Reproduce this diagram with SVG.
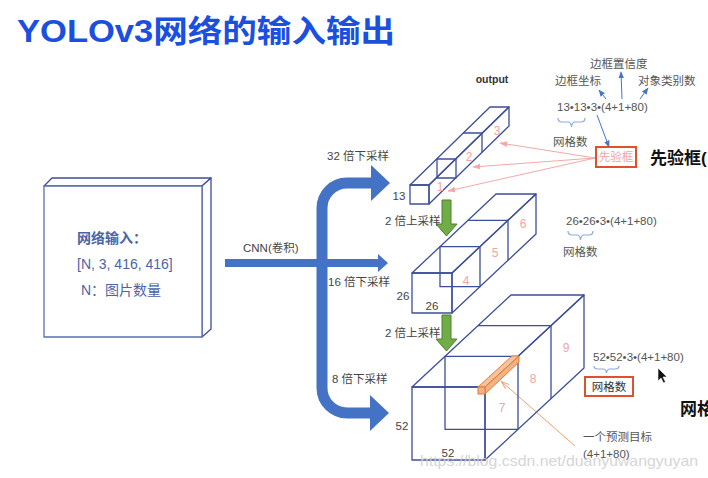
<svg xmlns="http://www.w3.org/2000/svg" width="708" height="478" viewBox="0 0 708 478">
<defs>
<style>
.t{font-family:"Liberation Sans","Noto Sans CJK SC",sans-serif;font-size:11.5px;fill:#444}
.g{fill:#555}
.pk{fill:#F4A3A3;font-size:12px}
.cube{fill:none;stroke:#3C4E9A;stroke-width:1.3;stroke-linejoin:round}
.face{fill:#fff;stroke:#3C4E9A;stroke-width:1.3;stroke-linejoin:round}
.big{fill:none;stroke:#4472C4}
.bh{fill:#4472C4}
.thin{fill:none;stroke:#4A72C8;stroke-width:1}
.pl{fill:none;stroke:#F4A8A8;stroke-width:1}
.br{fill:none;stroke:#8FAADC;stroke-width:1.2}
.grn{fill:#70AD47;stroke:#507E32;stroke-width:1}
.red{fill:#fff;stroke:#E0502A;stroke-width:2}
</style>
<marker id="ab" viewBox="0 0 10 10" refX="9" refY="5" markerWidth="7" markerHeight="7" orient="auto"><path d="M0,1 L10,5 L0,9 z" fill="#4A72C8"/></marker>
<marker id="ap" viewBox="0 0 10 10" refX="9" refY="5" markerWidth="8" markerHeight="8" orient="auto"><path d="M0,1.5 L10,5 L0,8.5 z" fill="#F4A8A8"/></marker>
<marker id="ao" viewBox="0 0 10 10" refX="9" refY="5" markerWidth="8" markerHeight="8" orient="auto"><path d="M0,1.5 L10,5 L0,8.5" fill="none" stroke="#F0A070" stroke-width="1.3"/></marker>
</defs>
<rect width="708" height="478" fill="#fff"/>

<text id="title" x="17" y="42" textLength="378" lengthAdjust="spacingAndGlyphs" style="font-family:'Liberation Sans','Noto Sans CJK SC',sans-serif;font-size:31px;font-weight:bold;fill:#1A4FE0">YOLOv3网络的输入输出</text>

<g id="input">
<polygon class="face" points="44,186 52,178 211,178 202,186"/>
<polygon class="face" points="202,186 211,178 211,329 202,337"/>
<rect class="face" x="44" y="186" width="158" height="151" style="stroke:#5A6FB0"/>
<text class="t" x="77" y="243" style="font-size:14px;font-weight:bold;fill:#4A64A8">网络输入：</text>
<text class="t" x="77" y="269" style="font-size:14px;fill:#4A64A8">[N, 3, 416, 416]</text>
<text class="t" x="81" y="295" style="font-size:14px;fill:#4A64A8">N：图片数量</text>
</g>

<g id="connectors">
<path class="big" d="M225,263 H379" stroke-width="8"/>
<polygon class="bh" points="378,254 388,263 378,272"/>
<path class="big" d="M372,183 H347 A25,25 0 0 0 322,208 V388 A25,25 0 0 0 347,413 H372" stroke-width="11"/>
<polygon class="bh" points="371,165 390,183 371,201"/>
<polygon class="bh" points="370,395 389,413 370,431"/>
<polygon class="grn" points="442,200 451,200 451,224 457,224 446.5,236 436,224 442,224"/>
<polygon class="grn" points="442,315 451,315 451,339 457,339 446.5,351 436,339 442,339"/>
<line class="thin" x1="606" y1="99" x2="599" y2="90" marker-end="url(#ab)"/>
<line class="thin" x1="622" y1="99" x2="621" y2="72" marker-end="url(#ab)"/>
<line class="thin" x1="640" y1="99" x2="648" y2="88" marker-end="url(#ab)"/>
<line class="thin" x1="597" y1="115" x2="609" y2="147" marker-end="url(#ab)"/>
<line class="pl" x1="595" y1="158" x2="500" y2="143" marker-end="url(#ap)"/>
<line class="pl" x1="595" y1="158" x2="473" y2="167" marker-end="url(#ap)"/>
<line class="pl" x1="595" y1="158" x2="448" y2="191" marker-end="url(#ap)"/>
<line x1="575" y1="446" x2="502" y2="382" stroke="#F0A070" stroke-width="1" marker-end="url(#ao)"/>
</g>

<g id="labels-left">
<text class="t" x="243" y="252">CNN(卷积)</text>
<text class="t" x="327" y="160">32 倍下采样</text>
<text class="t" x="385" y="225">2 倍上采样</text>
<text class="t" x="328" y="286">16 倍下采样</text>
<text class="t" x="385" y="337">2 倍上采样</text>
<text class="t" x="332" y="383">8 倍下采样</text>
</g>

<g id="cube13">
<polygon class="cube" points="410,185 490,107 509,107 429,185"/>
<polygon class="cube" points="429,185 509,107 509,126 429,204"/>
<rect class="cube" x="410" y="185" width="19" height="19"/>
<rect class="cube" x="437" y="159" width="19" height="19"/>
<polyline class="cube" points="463,133 482,133 482,152"/>
<text class="t pk" x="440" y="191" text-anchor="middle">1</text>
<text class="t pk" x="469" y="161" text-anchor="middle">2</text>
<text class="t pk" x="497" y="135" text-anchor="middle">3</text>
<text class="t" x="399" y="200" text-anchor="middle">13</text>
</g>

<g id="cube26">
<polygon class="cube" points="412,273 496,194 536,194 452,273"/>
<polygon class="cube" points="452,273 536,194 536,234 452,313"/>
<rect class="cube" x="412" y="273" width="40" height="40"/>
<rect class="cube" x="440" y="246.7" width="40" height="40"/>
<polyline class="cube" points="468,220.3 508,220.3 508,260.3"/>
<text class="t pk" x="466" y="285" text-anchor="middle">4</text>
<text class="t pk" x="495" y="257" text-anchor="middle">5</text>
<text class="t pk" x="523" y="228" text-anchor="middle">6</text>
<text class="t" x="403" y="300" text-anchor="middle">26</text>
<text class="t" x="432" y="310" text-anchor="middle">26</text>
</g>

<g id="cube52">
<polygon class="cube" points="412,387 511,295 584,295 485,387"/>
<polygon class="cube" points="485,387 584,295 584,368 485,460"/>
<rect class="cube" x="412" y="387" width="73" height="73"/>
<rect class="cube" x="445" y="356.3" width="73" height="73"/>
<polyline class="cube" points="478,325.7 551,325.7 551,398.7"/>
<text class="t pk" x="502" y="412" text-anchor="middle">7</text>
<text class="t pk" x="533" y="383" text-anchor="middle">8</text>
<text class="t pk" x="566" y="352" text-anchor="middle">9</text>
<text class="t" x="402" y="430" text-anchor="middle">52</text>
<text class="t" x="448" y="457" text-anchor="middle">52</text>
<g id="bar">
<polygon points="478,387 512,356 519,356 485,387" fill="#F8C39A" stroke="#E07B39" stroke-width="1"/>
<polygon points="485,387 519,356 519,362 485,394" fill="#F4B183" stroke="#E07B39" stroke-width="1"/>
<rect x="478" y="387" width="7" height="7" fill="#F4B183" stroke="#E07B39" stroke-width="1"/>
</g>
</g>

<g id="anno13">
<text class="t" x="492" y="83" text-anchor="middle" style="font-size:10.5px;font-weight:bold;fill:#333">output</text>
<text class="t g" x="590" y="68">边框置信度</text>
<text class="t g" x="555" y="85">边框坐标</text>
<text class="t g" x="638" y="85">对象类别数</text>
<text class="t g" x="557" y="111">13•13•3•(4+1+80)</text>
<path class="br" d="M558,118 q0,4 4,4 h6 q3,0 3.5,5 q0.5,-5 3.5,-5 h6 q4,0 4,-4"/>
<text class="t g" x="553" y="146">网格数</text>
<rect class="red" x="596" y="147" width="40" height="20"/>
<text class="t pk" x="616" y="161" text-anchor="middle" style="font-size:11.5px">先验框</text>
<text class="t" x="650" y="164" style="font-size:17px;font-weight:bold;fill:#111">先验框(</text>
</g>

<g id="anno26">
<text class="t g" x="566" y="225">26•26•3•(4+1+80)</text>
<path class="br" d="M568,231 q0,4 4,4 h5 q3,0 3.5,5 q0.5,-5 3.5,-5 h5 q4,0 4,-4"/>
<text class="t g" x="563" y="256">网格数</text>
</g>

<g id="anno52">
<text class="t g" x="593" y="361">52•52•3•(4+1+80)</text>
<path class="br" d="M594,366 q0,3 4,3 h5 q3,0 3.5,4 q0.5,-4 3.5,-4 h5 q4,0 4,-3"/>
<rect class="red" x="585" y="377" width="48" height="19"/>
<text class="t" x="609" y="391" text-anchor="middle" style="fill:#333">网格数</text>
<text class="t" x="680" y="415" style="font-size:17px;font-weight:bold;fill:#111">网格</text>
<text class="t g" x="583" y="441">一个预测目标</text>
<text class="t g" x="583" y="458">(4+1+80)</text>
</g>

<path id="cursor" d="M658,368 L658,381 L661,378 L663.5,383 L665.5,382 L663,377 L667,377 z" fill="#111" stroke="#fff" stroke-width="0.6"/>

<text id="watermark" x="420" y="466" textLength="278" lengthAdjust="spacingAndGlyphs" style="font-family:'Liberation Sans',sans-serif;font-size:15px;fill:#cfcfcf;opacity:0.85">https://blog.csdn.net/duanyuwangyuyan</text>
</svg>
